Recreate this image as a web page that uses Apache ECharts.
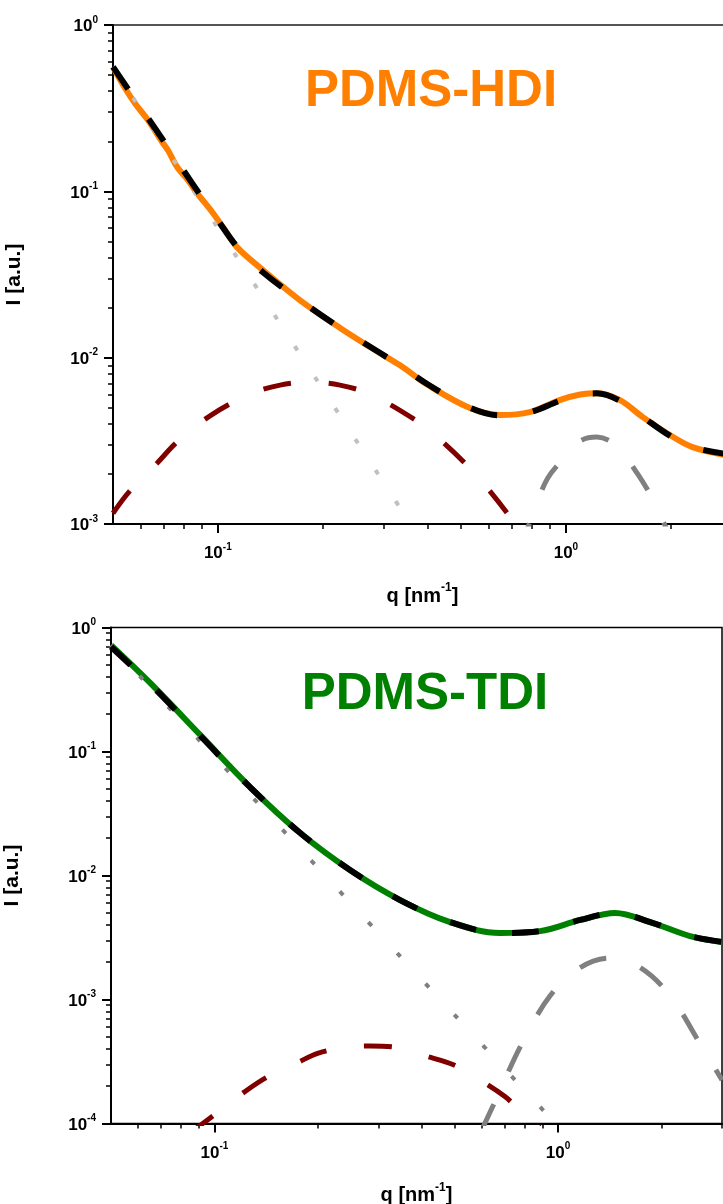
<!DOCTYPE html>
<html>
<head>
<meta charset="utf-8">
<script src="https://cdn.jsdelivr.net/npm/echarts@6/dist/echarts.min.js"></script>
<style>
  html, body { margin: 0; padding: 0; background: #ffffff; }
  #chart { width: 723px; height: 1204px; }
</style>
</head>
<body>
<div id="chart"></div>
<script>
// ---------- PDMS-HDI (upper panel) ----------
const hdiDataQ = [0.050, 0.0541, 0.058, 0.063, 0.0692, 0.072, 0.0764, 0.082, 0.0871, 0.0915, 0.0968, 0.104, 0.1135, 0.1348, 0.172, 0.2245, 0.292, 0.333, 0.406, 0.530, 0.646, 0.787, 0.959, 1.10, 1.227, 1.43, 1.663, 1.988, 2.31, 3.0];
const hdiDataI = [0.559, 0.418, 0.335, 0.268, 0.198, 0.176, 0.140, 0.117, 0.0977, 0.0860, 0.0741, 0.060, 0.0462, 0.0336, 0.0222, 0.0151, 0.01066, 0.00903, 0.00675, 0.00498, 0.00452, 0.00471, 0.00556, 0.00600, 0.00612, 0.00556, 0.00439, 0.00343, 0.00290, 0.00255];

const hdiFitQ = [0.050, 0.060, 0.070, 0.080, 0.090, 0.100, 0.115, 0.135, 0.172, 0.2245, 0.292, 0.333, 0.406, 0.530, 0.646, 0.787, 0.959, 1.10, 1.227, 1.43, 1.663, 1.988, 2.31, 3.0];
const hdiFitI = [0.56, 0.32, 0.20, 0.132, 0.092, 0.067, 0.045, 0.0325, 0.0222, 0.0151, 0.0107, 0.0090, 0.0068, 0.0050, 0.0045, 0.0047, 0.0055, 0.0060, 0.0061, 0.0055, 0.0044, 0.0034, 0.0029, 0.0026];

const hdiPowerQ = [0.050, 0.371];
const hdiPowerI = [0.56, 0.00089];

const hdiBroadQ = [0.050, 0.0556, 0.0669, 0.0764, 0.095, 0.1237, 0.151, 0.184, 0.2243, 0.2735, 0.373, 0.437, 0.5226, 0.604, 0.713, 0.787];
const hdiBroadI = [0.00116, 0.00156, 0.00232, 0.00311, 0.00447, 0.00603, 0.00684, 0.00713, 0.00684, 0.00603, 0.00416, 0.00319, 0.00223, 0.00158, 0.00101, 0.00075];

const hdiPeakQ = [0.737, 0.814, 0.887, 1.0, 1.10, 1.227, 1.40, 1.607, 1.776, 1.897, 2.01];
const hdiPeakI = [0.00070, 0.00123, 0.00189, 0.00256, 0.00316, 0.00333, 0.00294, 0.00200, 0.00141, 0.00105, 0.00081];

// ---------- PDMS-TDI (lower panel) ----------
const tdiDataQ = [0.050, 0.065, 0.0909, 0.127, 0.1777, 0.248, 0.347, 0.485, 0.678, 0.887, 1.16, 1.466, 1.854, 2.42, 3.0];
const tdiDataI = [0.72, 0.357, 0.136, 0.0517, 0.0220, 0.01107, 0.00634, 0.00421, 0.00344, 0.00356, 0.00438, 0.00499, 0.00421, 0.00325, 0.00291];

const tdiFitQ = [0.050, 0.065, 0.0909, 0.127, 0.1777, 0.248, 0.347, 0.485, 0.678, 0.887, 1.16, 1.466, 1.854, 2.42, 3.0];
const tdiFitI = [0.70, 0.350, 0.134, 0.0515, 0.0220, 0.01107, 0.00634, 0.00421, 0.00344, 0.00356, 0.00438, 0.00499, 0.00421, 0.00325, 0.00291];

const tdiPowerQ = [0.050, 0.93];
const tdiPowerI = [0.72, 0.000118];

const tdiBroadQ = [0.085, 0.1017, 0.122, 0.1424, 0.174, 0.2006, 0.2484, 0.2838, 0.3495, 0.402, 0.498, 0.5735, 0.702, 0.80, 0.887];
const tdiBroadI = [0.000084, 0.000122, 0.000179, 0.000237, 0.000308, 0.000370, 0.000414, 0.000422, 0.000406, 0.000357, 0.000296, 0.000237, 0.000164, 0.000117, 0.000094];

const tdiPeakQ = [0.60, 0.665, 0.781, 0.948, 1.16, 1.418, 1.734, 2.12, 2.593, 3.0];
const tdiPeakI = [0.000089, 0.000164, 0.00043, 0.00107, 0.00181, 0.00216, 0.00181, 0.00107, 0.000438, 0.000224];

// ---------- axis ticks ----------
const xMajor = [0.1, 1];
const xMinor = [0.06, 0.07, 0.08, 0.09, 0.2, 0.3, 0.4, 0.5, 0.6, 0.7, 0.8, 0.9, 2, 3];
const yMajorHdi = [0.001, 0.01, 0.1, 1];
const yMajorTdi = [0.0001, 0.001, 0.01, 0.1, 1];

function minorsFor(majors) {
  const out = [];
  for (let k = 0; k < majors.length - 1; k++) {
    for (let m = 2; m <= 9; m++) out.push(+(majors[k] * m).toPrecision(3));
  }
  return out;
}
const yMinorHdi = minorsFor(yMajorHdi);
const yMinorTdi = minorsFor(yMajorTdi);

const zip = (qs, is) => qs.map((q, i) => [q, is[i]]);

const FONT = 'Liberation Sans';
const powLabel = v => '{b|10}{e|' + Math.round(Math.log10(v)) + '}';
const powRich = {
  b: { fontSize: 17, fontWeight: 'bold', color: '#000', lineHeight: 20, verticalAlign: 'bottom', fontFamily: FONT },
  e: { fontSize: 10, fontWeight: 'bold', color: '#000', lineHeight: 10, verticalAlign: 'top', fontFamily: FONT }
};
const nameRichX = {
  n: { fontSize: 20, fontWeight: 'bold', color: '#000', lineHeight: 24, verticalAlign: 'bottom', fontFamily: FONT },
  s: { fontSize: 12, fontWeight: 'bold', color: '#000', lineHeight: 12, verticalAlign: 'top', fontFamily: FONT }
};

function mainX(gridIndex) {
  return {
    type: 'log', gridIndex, position: 'bottom', min: 0.05, max: 3, logBase: 10,
    name: '{n|q [nm}{s|-1}{n|]}', nameLocation: 'middle', nameGap: 58,
    nameTextStyle: { fontSize: 20, fontWeight: 'bold', color: '#000', rich: nameRichX },
    axisLine: { show: true, lineStyle: { color: '#000', width: 2 } },
    axisTick: { show: true, inside: false, length: 9, customValues: xMajor, lineStyle: { color: '#000', width: 2 } },
    axisLabel: { show: true, margin: 18, fontSize: 17, fontWeight: 'bold', color: '#000',
      customValues: xMajor, formatter: powLabel, rich: powRich },
    splitLine: { show: false }, minorTick: { show: false }
  };
}
function minorX(gridIndex) {
  return {
    type: 'log', gridIndex, position: 'bottom', min: 0.05, max: 3, logBase: 10,
    axisLine: { show: false },
    axisTick: { show: true, inside: false, length: 5, customValues: xMinor, lineStyle: { color: '#000', width: 1.5 } },
    axisLabel: { show: false }, splitLine: { show: false }
  };
}
function mainY(gridIndex, min, majors) {
  return {
    type: 'log', gridIndex, position: 'left', min, max: 1, logBase: 10,
    name: 'I [a.u.]', nameLocation: 'middle', nameGap: 88, nameRotate: 90,
    nameTextStyle: { fontSize: 21, fontWeight: 'bold', color: '#000', fontFamily: FONT },
    axisLine: { show: true, lineStyle: { color: '#000', width: 2 } },
    axisTick: { show: true, inside: false, length: 9, customValues: majors, lineStyle: { color: '#000', width: 2 } },
    axisLabel: { show: true, margin: 15, fontSize: 17, fontWeight: 'bold', color: '#000',
      customValues: majors, formatter: powLabel, rich: powRich },
    splitLine: { show: false }
  };
}
function minorY(gridIndex, min, minors) {
  return {
    type: 'log', gridIndex, position: 'left', min, max: 1, logBase: 10,
    axisLine: { show: false },
    axisTick: { show: true, inside: false, length: 5, customValues: minors, lineStyle: { color: '#000', width: 1.5 } },
    axisLabel: { show: false }, splitLine: { show: false }
  };
}

function curve(name, xi, data, color, width, dash, z) {
  return {
    name, type: 'line', xAxisIndex: xi, yAxisIndex: xi, data,
    showSymbol: false, symbol: 'none', smooth: 0.35, z, silent: true,
    lineStyle: { color, width, type: dash || 'solid', cap: 'butt' },
    animation: false
  };
}

const option = {
  animation: false,
  backgroundColor: '#ffffff',
  textStyle: { fontFamily: FONT },
  title: [
    { text: 'PDMS-HDI', left: 426, top: 61, textAlign: 'center',
      textStyle: { fontSize: 51, fontWeight: 'bold', color: '#FF8000', fontFamily: FONT } },
    { text: 'PDMS-TDI', left: 420, top: 664, textAlign: 'center',
      textStyle: { fontSize: 51, fontWeight: 'bold', color: '#008000', fontFamily: FONT } }
  ],
  grid: [
    { left: 113, right: -9, top: 25, height: 499, outerBoundsMode: 'none', containLabel: false,
      show: true, borderColor: '#555', borderWidth: 2, backgroundColor: 'transparent' },
    { left: 111, right: 1, top: 627.5, height: 496, outerBoundsMode: 'none', containLabel: false,
      show: true, borderColor: '#000', borderWidth: 1.5, backgroundColor: 'transparent' }
  ],
  xAxis: [mainX(0), minorX(0), mainX(1), minorX(1)],
  yAxis: [mainY(0, 0.001, yMajorHdi), minorY(0, 0.001, yMinorHdi), mainY(1, 0.0001, yMajorTdi), minorY(1, 0.0001, yMinorTdi)],
  series: [
    curve('HDI data', 0, zip(hdiDataQ, hdiDataI), '#FF8000', 6, null, 1),
    curve('HDI broad', 0, zip(hdiBroadQ, hdiBroadI), '#800000', 5, [28, 38], 2),
    curve('HDI peak', 0, zip(hdiPeakQ, hdiPeakI), '#808080', 5, [28, 36], 2),
    curve('HDI power law', 0, zip(hdiPowerQ, hdiPowerI), '#C0C0C0', 4, [5, 32], 3),
    curve('HDI fit', 0, zip(hdiFitQ, hdiFitI), '#000000', 6, [27, 36], 4),

    curve('TDI data', 2, zip(tdiDataQ, tdiDataI), '#008000', 6, null, 1),
    curve('TDI broad', 2, zip(tdiBroadQ, tdiBroadI), '#800000', 5, [28, 38], 2),
    curve('TDI peak', 2, zip(tdiPeakQ, tdiPeakI), '#808080', 5, [28, 36], 2),
    curve('TDI power law', 2, zip(tdiPowerQ, tdiPowerI), '#808080', 4, [5, 37], 3),
    curve('TDI fit', 2, zip(tdiFitQ, tdiFitI), '#000000', 6, [27, 36], 4)
  ]
};

const chart = echarts.init(document.getElementById('chart'), null, { renderer: 'canvas' });
chart.setOption(option);
</script>
</body>
</html>
